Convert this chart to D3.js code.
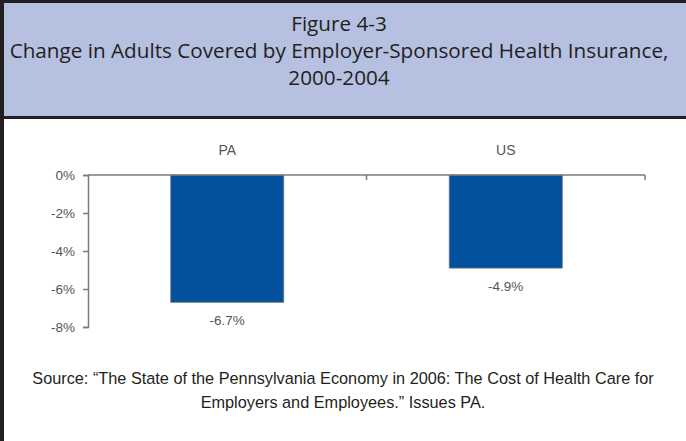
<!DOCTYPE html>
<html>
<head>
<meta charset="utf-8">
<script src="https://cdn.jsdelivr.net/npm/d3@7"></script>
<style>
  body { margin: 0; background: #fff; }
  svg { display: block; }
</style>
</head>
<body>
<script>
// data
const regions = ["PA", "US"];
const changes = [-6.7, -4.9];
const yTicks = [0, -2, -4, -6, -8];
const titleLines = ["Figure 4-3", "Change in Adults Covered by Employer-Sponsored Health Insurance,", "2000-2004"];
const sourceLines = ["Source: \u201CThe State of the Pennsylvania Economy in 2006: The Cost of Health Care for", "Employers and Employees.\u201D Issues PA."];

const W = 686, H = 441;
const svg = d3.select("body").append("svg")
    .attr("width", W)
    .attr("height", H);

svg.append("rect").attr("width", W).attr("height", H).attr("fill", "#fff");

// header box
svg.append("rect")
    .attr("x", 0).attr("y", 0)
    .attr("width", W).attr("height", 118)
    .attr("fill", "#b6c0e0");
svg.append("rect").attr("x", 0).attr("y", 0).attr("width", W).attr("height", 3).attr("fill", "#231f20");
svg.append("rect").attr("x", 0).attr("y", 116).attr("width", W).attr("height", 3).attr("fill", "#231f20");
svg.append("rect").attr("x", 0).attr("y", 0).attr("width", 4).attr("height", H).attr("fill", "#231f20");

svg.append("g")
    .selectAll("text")
    .data(titleLines)
    .join("text")
    .attr("x", 339)
    .attr("y", (d, i) => 31 + i * 27)
    .attr("text-anchor", "middle")
    .attr("font-family", "'Open Sans', sans-serif")
    .attr("font-size", 20.7)
    .attr("fill", "#231f20")
    .text(d => d);

// chart
const x = d3.scaleBand()
    .domain(regions)
    .range([88, 645])
    .paddingInner(0.594)
    .paddingOuter(0.297);
const y = d3.scaleLinear()
    .domain([0, -8])
    .range([175, 327]);

const axisColor = "#7a7a7a";
const labelColor = "#555";
const labelFont = "'Liberation Sans', Arial, sans-serif";

const yAxis = svg.append("g")
    .attr("transform", "translate(88,0)")
    .call(d3.axisLeft(y).tickValues(yTicks).tickSize(5).tickFormat(d => d + "%"));
yAxis.select(".domain").attr("stroke", axisColor).attr("stroke-width", 1.5);
yAxis.selectAll(".tick line").attr("stroke", axisColor).attr("stroke-width", 1.5);
yAxis.selectAll(".tick text")
    .attr("x", -13)
    .attr("fill", labelColor)
    .attr("font-family", labelFont)
    .attr("font-size", 13.5);

svg.append("g")
    .selectAll("rect")
    .data(regions)
    .join("rect")
    .attr("x", d => x(d))
    .attr("y", y(0))
    .attr("width", x.bandwidth())
    .attr("height", (d, i) => y(changes[i]) - y(0))
    .attr("fill", "#03509e")
    .attr("stroke", "#7a7a7a")
    .attr("stroke-width", 0.8);

// category axis along the zero line
const boundaries = [88 + x.step(), 645];
svg.append("line")
    .attr("x1", 88).attr("x2", 645)
    .attr("y1", y(0)).attr("y2", y(0))
    .attr("stroke", axisColor).attr("stroke-width", 1.5);
svg.append("g")
    .selectAll("line")
    .data(boundaries)
    .join("line")
    .attr("x1", d => d).attr("x2", d => d)
    .attr("y1", y(0)).attr("y2", y(0) + 5)
    .attr("stroke", axisColor).attr("stroke-width", 1.5);

svg.append("g")
    .selectAll("text")
    .data(regions)
    .join("text")
    .attr("x", d => x(d) + x.bandwidth() / 2)
    .attr("y", 155)
    .attr("text-anchor", "middle")
    .attr("fill", labelColor)
    .attr("font-family", labelFont)
    .attr("font-size", 14)
    .text(d => d);

svg.append("g")
    .selectAll("text")
    .data(changes)
    .join("text")
    .attr("x", (d, i) => x(regions[i]) + x.bandwidth() / 2)
    .attr("y", d => y(d) + 23)
    .attr("text-anchor", "middle")
    .attr("fill", labelColor)
    .attr("font-family", labelFont)
    .attr("font-size", 13.5)
    .text(d => d.toFixed(1) + "%");

svg.append("g")
    .selectAll("text")
    .data(sourceLines)
    .join("text")
    .attr("x", 343)
    .attr("y", (d, i) => 384 + i * 24)
    .attr("text-anchor", "middle")
    .attr("font-family", "'Liberation Sans', sans-serif")
    .attr("font-size", 16.3)
    .attr("fill", "#231f20")
    .text(d => d);
</script>
</body>
</html>
